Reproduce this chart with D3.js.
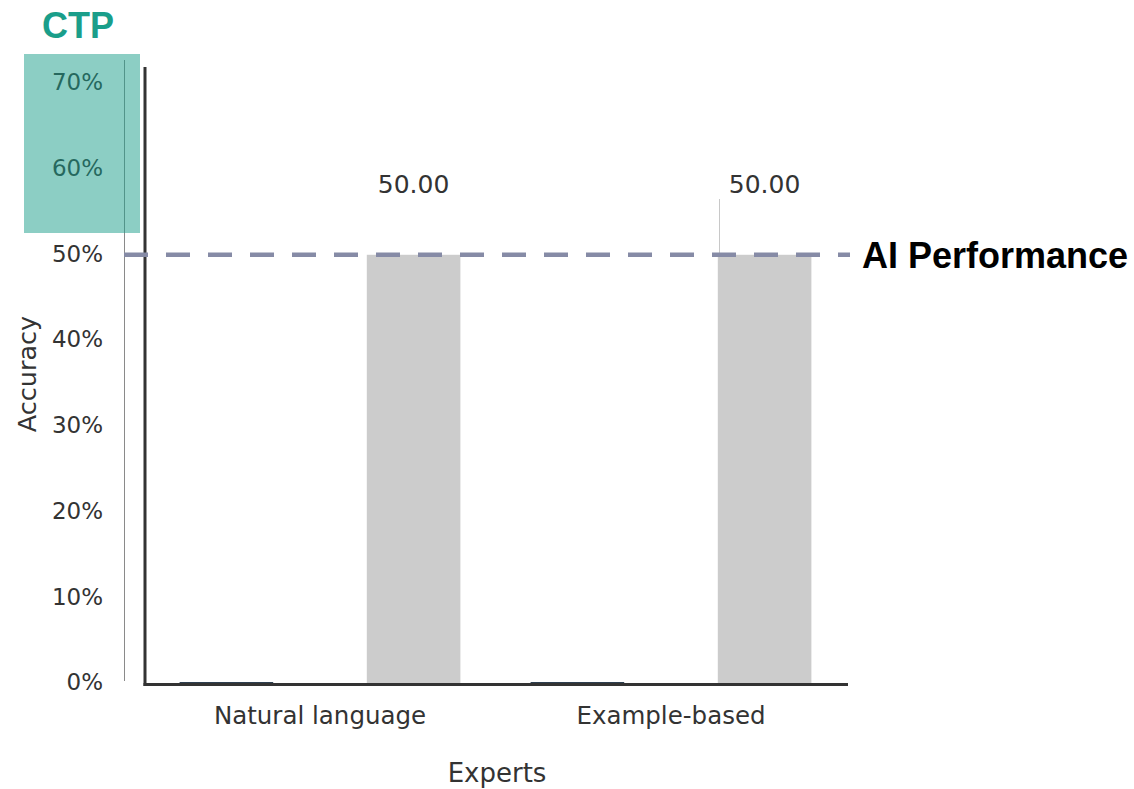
<!DOCTYPE html>
<html>
<head>
<meta charset="utf-8">
<script src="https://cdn.jsdelivr.net/npm/d3@7"></script>
<style>
  html, body { margin: 0; padding: 0; background: #fff; }
  svg { display: block; }
</style>
</head>
<body>
<svg id="chart" width="1134" height="789"></svg>
<script>
// Expert groups on the x axis
const categories = ["Natural language", "Example-based"];
// Three hue levels per group; the middle level has no data
const hueLevels = ["first", "second", "third"];
const firstValues = [0, 0];
const secondValues = [null, null];
const thirdValues = [50, 50];
const yTicks = [0, 10, 20, 30, 40, 50, 60, 70];
const aiPerformance = 50;

const svg = d3.select("#chart");
const font = "'DejaVu Sans', sans-serif";

const x = d3.scaleBand().domain(categories).range([144.5, 846.5]).padding(0);
const xInner = d3.scaleBand().domain(hueLevels)
  .range([0, x.bandwidth() * 0.8]).padding(0);
const y = d3.scaleLinear().domain([0, 71.9]).range([683.5, 67]);

const colors = { first: "#2e3f50", second: "#7f8c8d", third: "#cccccc" };
const seriesData = { first: firstValues, second: secondValues, third: thirdValues };

// thin guide line left of the axis
svg.append("line")
  .attr("x1", 124.5).attr("x2", 124.5)
  .attr("y1", 60).attr("y2", 681)
  .attr("stroke", "#8a8a8a").attr("stroke-width", 1);

// y tick labels
const yAxis = d3.axisLeft(y).tickValues(yTicks)
  .tickFormat(d => d + "%").tickSize(0).tickPadding(0);
const gy = svg.append("g").attr("transform", "translate(103,0)").call(yAxis);
gy.select(".domain").remove();
gy.selectAll("text")
  .attr("font-family", font).attr("font-size", 23).attr("fill", "#333")
  .attr("dy", "0.28em");

// bars
const rows = [];
categories.forEach((c, i) => {
  hueLevels.forEach(h => {
    const v = seriesData[h][i];
    if (v !== null) rows.push({ cat: c, hue: h, value: v });
  });
});
const groupStart = c => x(c) + x.bandwidth() * 0.1;
svg.append("g").selectAll("rect").data(rows).join("rect")
  .attr("x", d => groupStart(d.cat) + xInner(d.hue))
  .attr("width", xInner.bandwidth())
  .attr("y", d => y(d.value) - (d.value === 0 ? 1.5 : 0))
  .attr("height", d => Math.max(1.5, y(0) - y(d.value)))
  .attr("fill", d => colors[d.hue]);

// value labels above the third bars
svg.append("g").selectAll("text").data(rows.filter(d => d.hue === "third")).join("text")
  .attr("x", d => groupStart(d.cat) + xInner(d.hue) + xInner.bandwidth() / 2)
  .attr("y", d => y(d.value) - 62)
  .attr("text-anchor", "middle")
  .attr("font-family", font).attr("font-size", 25).attr("fill", "#333")
  .text(d => d.value.toFixed(2));

// faint marker line beside the second value label
svg.append("line")
  .attr("x1", 719.5).attr("x2", 719.5)
  .attr("y1", 199).attr("y2", 260)
  .attr("stroke", "#c8c8c8").attr("stroke-width", 1);

// x tick labels
const xAxis = d3.axisBottom(x).tickSize(0).tickPadding(0);
const gx = svg.append("g").attr("transform", "translate(0,707)").call(xAxis);
gx.select(".domain").remove();
gx.selectAll("text")
  .attr("font-family", font).attr("font-size", 24.5).attr("fill", "#333");

// spines
svg.append("line")
  .attr("x1", 145).attr("x2", 145).attr("y1", 67).attr("y2", 686)
  .attr("stroke", "#333").attr("stroke-width", 3);
svg.append("line")
  .attr("x1", 143.5).attr("x2", 848).attr("y1", 684.5).attr("y2", 684.5)
  .attr("stroke", "#333").attr("stroke-width", 3);

// axis titles
svg.append("text")
  .attr("transform", "translate(36,374) rotate(-90)")
  .attr("text-anchor", "middle")
  .attr("font-family", font).attr("font-size", 25.5).attr("fill", "#333")
  .text("Accuracy");
svg.append("text")
  .attr("x", 497).attr("y", 782)
  .attr("text-anchor", "middle")
  .attr("font-family", font).attr("font-size", 26).attr("fill", "#333")
  .text("Experts");

// AI performance reference line
svg.append("line")
  .attr("x1", 124).attr("x2", 850)
  .attr("y1", y(aiPerformance)).attr("y2", y(aiPerformance))
  .attr("stroke", "#868ba6").attr("stroke-width", 4.5)
  .attr("stroke-dasharray", "24 18");
svg.append("text")
  .attr("x", 862).attr("y", y(aiPerformance) + 13)
  .attr("font-family", "'Liberation Sans', Arial, sans-serif")
  .attr("font-weight", "bold").attr("font-size", 36).attr("fill", "#000")
  .text("AI Performance");

// CTP highlight over the upper tick range
svg.append("rect")
  .attr("x", 24).attr("y", 54).attr("width", 116).attr("height", 179)
  .attr("fill", "#1a9e8a").attr("fill-opacity", 0.5);
svg.append("text")
  .attr("x", 42).attr("y", 38)
  .attr("font-family", "'Liberation Sans', Arial, sans-serif")
  .attr("font-weight", "bold").attr("font-size", 36).attr("fill", "#1a9e8a")
  .text("CTP");
</script>
</body>
</html>
